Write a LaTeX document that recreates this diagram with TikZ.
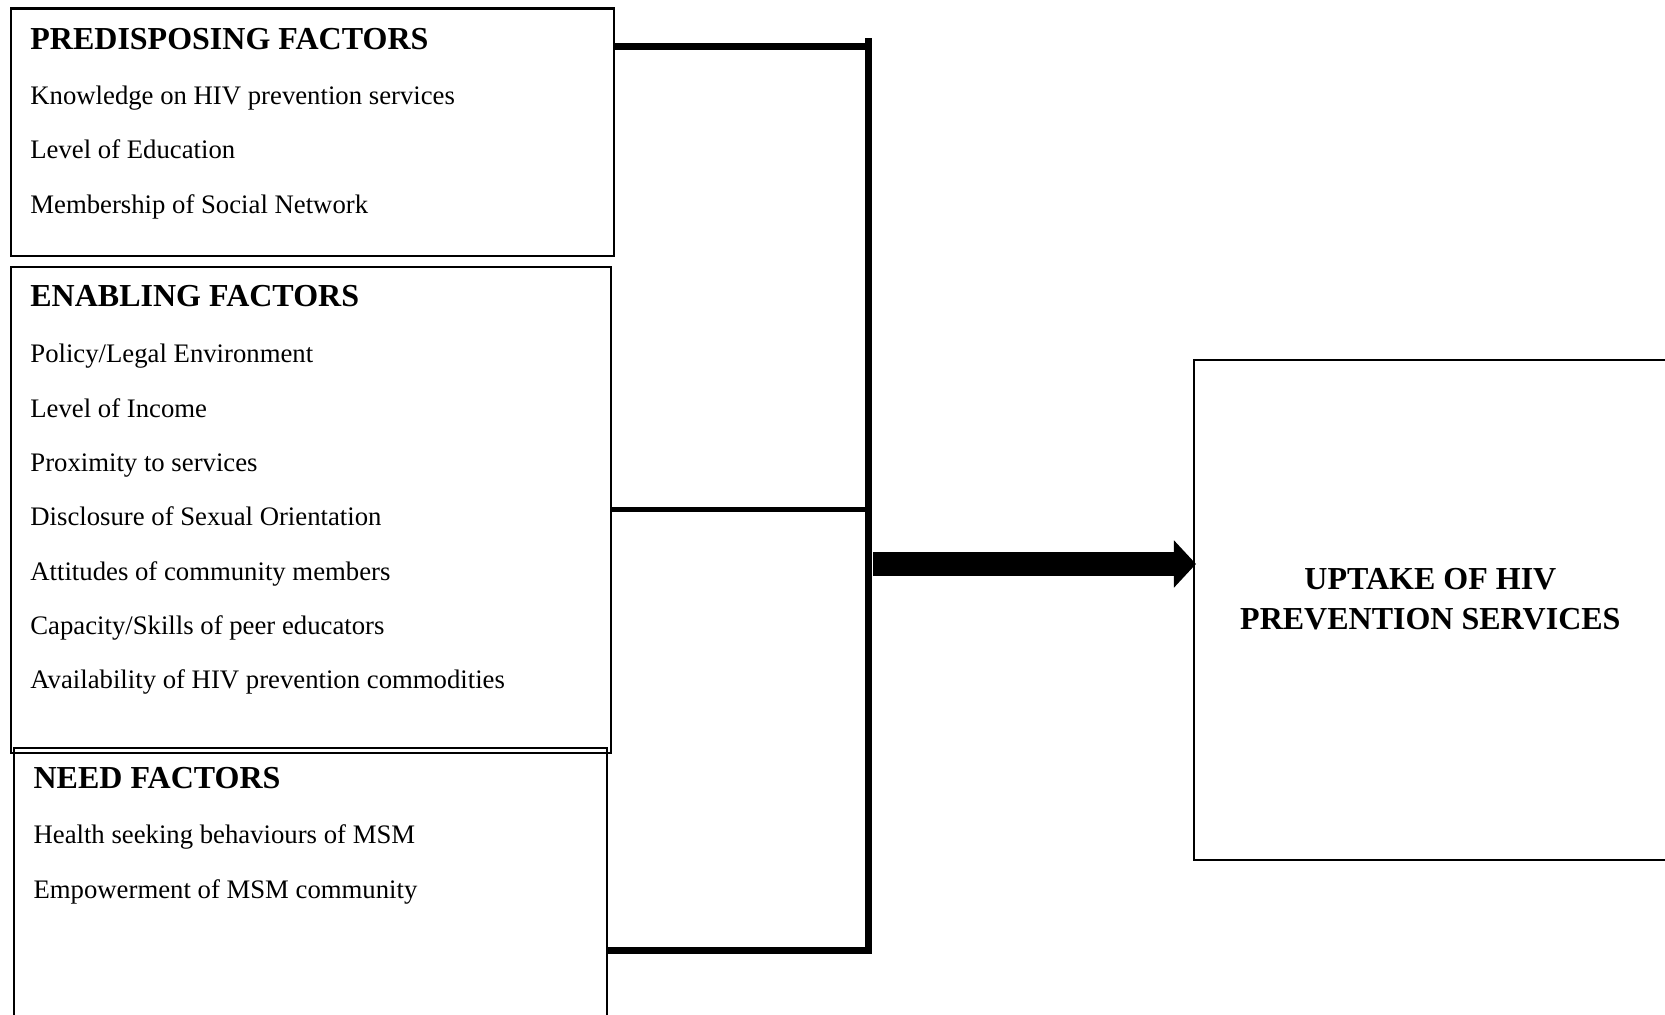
\documentclass[tikz,border=0pt]{standalone}
\usepackage{fontspec}
\setmainfont{Liberation Serif}
\usetikzlibrary{arrows.meta}
\tikzset{
    factorbox/.style={rectangle, draw=black, line width=0.6pt, anchor=north west, inner sep=0pt},
    heading/.style={anchor=base west, inner sep=0pt, font=\fontsize{9.1}{11.5}\selectfont\bfseries},
    item/.style={anchor=base west, inner sep=0pt, font=\fontsize{7.6}{9}\selectfont},
    busline/.style={line width=2pt}
}
\begin{document}
\begin{tikzpicture}[x=0.01cm, y=-0.01cm]
                \useasboundingbox (0,0) rectangle (1665,1015);
                % boxes
                \node[factorbox, minimum width=6.03cm, minimum height=2.475cm] (pred) at (9.6,7.4) {};
                \node[factorbox, minimum width=6.0cm, minimum height=4.863cm] (enab) at (9.6,265.5) {};
                \node[factorbox, minimum width=5.926cm, minimum height=2.9cm] (need) at (12.7,746.5) {};
                \node[factorbox, minimum width=5cm, minimum height=5cm] (uptake) at (1192.5,359) {};
                % headings
                \node[heading] (predhead) at (29.7,49) {PREDISPOSING FACTORS};
                \node[heading] (enabhead) at (29.7,307) {ENABLING FACTORS};
                \node[heading] (needhead) at (32.9,788) {NEED FACTORS};
                \node[align=center, inner sep=0pt, font=\fontsize{9.1}{11.5}\selectfont\bfseries] (uptaketext) at (1430.4,599) {UPTAKE OF HIV\\PREVENTION SERVICES};
                % factor lists
                \foreach[count=\i] \t in {Knowledge on HIV prevention services,Level of Education,Membership of Social Network}
                {
                    \node[item] (predi\i) at (29.7,{49.5+54.6*\i}) {\t};
                }
                \foreach[count=\i] \t in {Policy/Legal Environment,Level of Income,Proximity to services,Disclosure of Sexual Orientation,Attitudes of community members,Capacity/Skills of peer educators,Availability of HIV prevention commodities}
                {
                    \node[item] (enabi\i) at (29.7,{308.5+54.3*\i}) {\t};
                }
                \foreach[count=\i] \t in {Health seeking behaviours of MSM,Empowerment of MSM community}
                {
                    \node[item] (needi\i) at (32.9,{788.5+54.8*\i}) {\t};
                }
                % connectors
                \coordinate (bustip) at (868.6,38);
                \coordinate (bustop) at (868.6,46.7);
                \coordinate (busbot) at (868.6,950.4);
                \coordinate (arrowstart) at (873,564);
                \draw[busline] (pred.east |- bustop) -- (bustop);
                \draw[busline] (bustip) -- (busbot) -- (need.east |- busbot);
                \draw[line width=1.5pt] (enab.east) -- (enab.east -| busbot);
                \draw[line width=0.23cm, -{Triangle[length=0.22cm, width=0.46cm]}] (arrowstart) -- ([xshift=0.035cm]arrowstart -| uptake.west);
            \end{tikzpicture}
\end{document}
